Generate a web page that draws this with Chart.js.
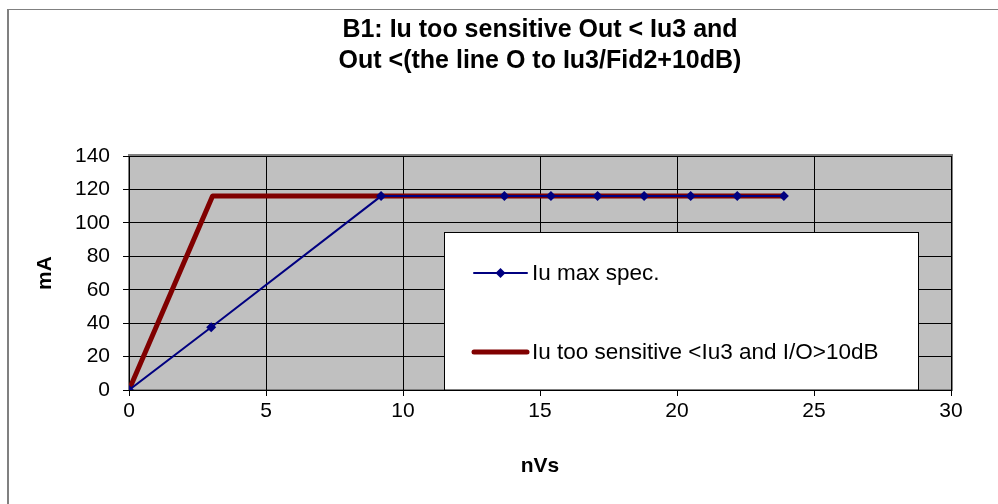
<!DOCTYPE html>
<html>
<head>
<meta charset="utf-8">
<script src="https://cdn.jsdelivr.net/npm/chart.js@4/dist/chart.umd.min.js"></script>
<style>
body { margin: 0; background: #fff; overflow: hidden; }
#wrap { position: absolute; left: 0; top: 0; width: 998px; height: 504px; }
#frame { position: absolute; left: 7px; top: 9px; width: 1100px; height: 600px;
         border-left: 2px solid #808080; border-top: 1px solid #808080; }
</style>
</head>
<body>
<div id="wrap">
  <div id="frame"></div>
  <canvas id="chart" width="998" height="504"></canvas>
</div>
<script>
// values
var titleLines = ['B1: Iu too sensitive Out < Iu3 and', 'Out <(the line O to Iu3/Fid2+10dB)'];
var xTitle = 'nVs';
var yTitle = 'mA';

var specLabel = 'Iu max spec.';
var specX = [0, 3, 9.2, 13.7, 15.4, 17.1, 18.8, 20.5, 22.2, 23.9];
var specY = [0, 37.5, 116, 116, 116, 116, 116, 116, 116, 116];

var sensLabel = 'Iu too sensitive <Iu3 and I/O>10dB';
var sensX = [0, 3.05, 23.9];
var sensY = [0, 116, 116];

var xTicks = [0, 5, 10, 15, 20, 25, 30];
var yTicks = [0, 20, 40, 60, 80, 100, 120, 140];

var FONT = '"Liberation Sans", Arial, sans-serif';

function pts(xs, ys) {
    var out = [];
    for (var i = 0; i < xs.length; i++) out.push({ x: xs[i], y: ys[i] });
    return out;
}

// grey plot background + frame
var plotBack = {
    id: 'plotBack',
    beforeDraw: function(chart) {
        var a = chart.chartArea, c = chart.ctx;
        c.save();
        c.fillStyle = '#c0c0c0';
        c.fillRect(a.left, a.top, a.right - a.left, a.bottom - a.top);
        c.strokeStyle = '#808080';
        c.lineWidth = 2;
        c.strokeRect(a.left, a.top - 1, a.right - a.left + 1, a.bottom - a.top + 1);
        c.restore();
    }
};

// boxed legend inside the plot area
var boxLegend = {
    id: 'boxLegend',
    afterDatasetsDraw: function(chart) {
        var c = chart.ctx;
        var ds = chart.data.datasets;
        var bx = 444.5, by = 232.5, bw = 474, bh = 157.5;
        c.save();
        c.fillStyle = '#fff';
        c.fillRect(bx, by, bw, bh);
        c.strokeStyle = '#000';
        c.lineWidth = 1;
        c.strokeRect(bx, by, bw, bh);
        var rows = [273, 352];
        for (var i = 0; i < ds.length; i++) {
            var y = rows[i];
            c.strokeStyle = ds[i].borderColor;
            c.lineWidth = ds[i].borderWidth;
            c.lineCap = 'round';
            c.beginPath();
            c.moveTo(474, y);
            c.lineTo(527, y);
            c.stroke();
            if (ds[i].pointRadius > 0) {
                c.fillStyle = ds[i].pointBackgroundColor;
                var r = ds[i].pointRadius;
                c.beginPath();
                c.moveTo(500.5, y - r);
                c.lineTo(500.5 + r, y);
                c.lineTo(500.5, y + r);
                c.lineTo(500.5 - r, y);
                c.closePath();
                c.fill();
            }
            c.fillStyle = '#000';
            c.font = '22.5px ' + FONT;
            c.textBaseline = 'middle';
            c.fillText(ds[i].label, 532, y + 1);
        }
        c.restore();
    }
};

window.onload = function() {
    var ctx = document.getElementById('chart').getContext('2d');
    var config = {
        type: 'scatter',
        data: {
            datasets: [{
                label: specLabel,
                data: pts(specX, specY),
                showLine: true,
                borderColor: '#000080',
                backgroundColor: '#000080',
                pointBackgroundColor: '#000080',
                pointBorderColor: '#000080',
                borderWidth: 2,
                pointStyle: 'rectRot',
                pointRadius: 5,
                pointBorderWidth: 0
            }, {
                label: sensLabel,
                data: pts(sensX, sensY),
                showLine: true,
                borderColor: '#800000',
                backgroundColor: '#800000',
                borderWidth: 5,
                pointRadius: 0,
                borderJoinStyle: 'round'
            }]
        },
        options: {
            responsive: false,
            animation: false,
            devicePixelRatio: 1,
            layout: { padding: { left: 0, right: 47, top: 0, bottom: 0 } },
            plugins: {
                legend: { display: false },
                tooltip: { enabled: false },
                title: {
                    display: true,
                    fullSize: false,
                    text: titleLines,
                    color: '#000',
                    font: { family: FONT, size: 25, weight: 'bold', lineHeight: 1.24 },
                    padding: { top: 14.5, bottom: 79.5 }
                }
            },
            scales: {
                x: {
                    type: 'linear',
                    min: 0, max: 30,
                    afterBuildTicks: function(s) { s.ticks = xTicks.map(function(v) { return { value: v }; }); },
                    afterFit: function(s) { s.height = 114; },
                    grid: { color: '#000', lineWidth: 1, tickLength: 6, drawTicks: true },
                    border: { color: '#000', width: 1 },
                    ticks: { color: '#000', padding: 3, maxRotation: 0, font: { family: FONT, size: 21 } },
                    title: {
                        display: true, text: xTitle, color: '#000',
                        font: { family: FONT, size: 21, weight: 'bold' },
                        padding: { top: 0, bottom: 25 }
                    }
                },
                y: {
                    type: 'linear',
                    min: 0, max: 140,
                    afterBuildTicks: function(s) { s.ticks = yTicks.map(function(v) { return { value: v }; }); },
                    afterFit: function(s) { s.width = 129; },
                    grid: { color: '#000', lineWidth: 1, tickLength: 6, drawTicks: true },
                    border: { color: '#000', width: 1 },
                    ticks: { color: '#000', padding: 13, font: { family: FONT, size: 21 } },
                    title: {
                        display: true, text: yTitle, color: '#000',
                        font: { family: FONT, size: 21, weight: 'bold' },
                        padding: { top: 33, bottom: 0 }
                    }
                }
            }
        },
        plugins: [plotBack, boxLegend]
    };
    window.myChart = new Chart(ctx, config);
};
</script>
</body>
</html>
